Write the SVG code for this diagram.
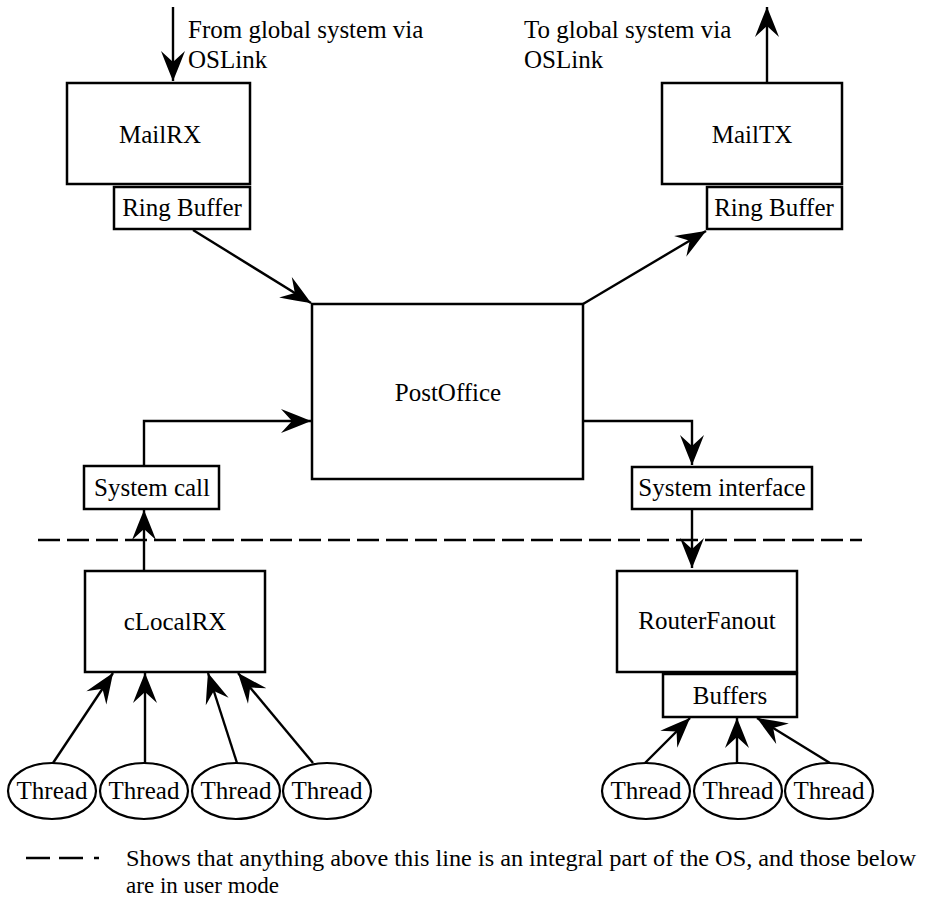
<svg xmlns="http://www.w3.org/2000/svg" width="927" height="914" viewBox="0 0 927 914">
  <style>
    .box { fill: #fff; stroke: #000; stroke-width: 2.5; }
    .thread { fill: #fff; stroke: #000; stroke-width: 2.2; }
    text { font-family: "Liberation Serif", "Times New Roman", serif; font-size: 25px; fill: #000; }
    .mid { text-anchor: middle; }
    .note { font-size: 22.5px; }
    .wire { fill: none; stroke: #000; stroke-width: 2.4; }
    .os { fill: none; stroke: #000; stroke-width: 2.6; stroke-dasharray: 22 7; }
  </style>
  <defs>
    <marker id="head" viewBox="-32 -14 34 28" refX="0" refY="0" markerWidth="34" markerHeight="28" markerUnits="userSpaceOnUse" orient="auto">
      <path d="M0,0 Q-12,-5 -30,-12 L-19,0 L-30,12 Q-12,5 0,0 Z" fill="#000"/>
    </marker>
  </defs>
  <rect width="927" height="914" fill="#fff"/>

  <!-- user / kernel boundary -->
  <path class="os" d="M38,540 L862,540"/>

  <!-- external links -->
  <g id="external-labels">
    <text x="188" y="38">From global system via</text>
    <text x="188" y="68">OSLink</text>
    <text x="524" y="38">To global system via</text>
    <text x="524" y="68">OSLink</text>
  </g>

  <g id="connectors">
    <path class="wire" marker-end="url(#head)" d="M173,7 L173,81"/>
    <path class="wire" marker-end="url(#head)" d="M767,83 L767,7"/>
    <path class="wire" marker-end="url(#head)" d="M193,230 L311,303"/>
    <path class="wire" marker-end="url(#head)" d="M583,304 L706,231"/>
    <path class="wire" marker-end="url(#head)" d="M144,466 L144,421 L311,421"/>
    <path class="wire" marker-end="url(#head)" d="M583,421 L692,421 L692,465"/>
    <path class="wire" marker-end="url(#head)" d="M692,509 L692,568"/>
    <path class="wire" marker-end="url(#head)" d="M144,571 L144,510"/>
    <path class="wire" marker-end="url(#head)" d="M53,763 L113,673"/>
    <path class="wire" marker-end="url(#head)" d="M145,763 L145,673"/>
    <path class="wire" marker-end="url(#head)" d="M237,763 L208,673"/>
    <path class="wire" marker-end="url(#head)" d="M313,763 L238,673"/>
    <path class="wire" marker-end="url(#head)" d="M645,763 L690,718"/>
    <path class="wire" marker-end="url(#head)" d="M737,763 L737,718"/>
    <path class="wire" marker-end="url(#head)" d="M830,763 L757,718"/>
  </g>

  <g id="mailrx">
    <rect class="box" x="67" y="83" width="183" height="101"/>
    <text class="mid" x="160" y="143">MailRX</text>
  </g>
  <g id="mailrx-ring-buffer">
    <rect class="box" x="114" y="187" width="136" height="42"/>
    <text class="mid" x="182" y="216">Ring Buffer</text>
  </g>

  <g id="mailtx">
    <rect class="box" x="662" y="83" width="180" height="101"/>
    <text class="mid" x="752" y="143">MailTX</text>
  </g>
  <g id="mailtx-ring-buffer">
    <rect class="box" x="707" y="187" width="135" height="42"/>
    <text class="mid" x="774" y="216">Ring Buffer</text>
  </g>

  <g id="postoffice">
    <rect class="box" x="312" y="304" width="271" height="175"/>
    <text class="mid" x="448" y="401">PostOffice</text>
  </g>

  <g id="system-call">
    <rect class="box" x="84" y="466" width="135" height="43"/>
    <text class="mid" x="152" y="496">System call</text>
  </g>

  <g id="system-interface">
    <rect class="box" x="632" y="467" width="180" height="42"/>
    <text class="mid" x="722" y="496">System interface</text>
  </g>

  <g id="clocalrx">
    <rect class="box" x="85" y="571" width="180" height="101"/>
    <text class="mid" x="175" y="630">cLocalRX</text>
  </g>

  <g id="routerfanout">
    <rect class="box" x="617" y="571" width="180" height="101"/>
    <text class="mid" x="707" y="629">RouterFanout</text>
  </g>
  <g id="buffers">
    <rect class="box" x="663" y="674" width="134" height="43"/>
    <text class="mid" x="730" y="704">Buffers</text>
  </g>

  <g id="thread-l1"><ellipse class="thread" cx="52" cy="791" rx="44" ry="28"/><text class="mid" x="52" y="799">Thread</text></g>
  <g id="thread-l2"><ellipse class="thread" cx="144" cy="791" rx="44" ry="28"/><text class="mid" x="144" y="799">Thread</text></g>
  <g id="thread-l3"><ellipse class="thread" cx="236" cy="791" rx="44" ry="28"/><text class="mid" x="236" y="799">Thread</text></g>
  <g id="thread-l4"><ellipse class="thread" cx="327" cy="791" rx="44" ry="28"/><text class="mid" x="327" y="799">Thread</text></g>

  <g id="thread-r1"><ellipse class="thread" cx="646" cy="791" rx="44" ry="28"/><text class="mid" x="646" y="799">Thread</text></g>
  <g id="thread-r2"><ellipse class="thread" cx="738" cy="791" rx="44" ry="28"/><text class="mid" x="738" y="799">Thread</text></g>
  <g id="thread-r3"><ellipse class="thread" cx="829" cy="791" rx="44" ry="28"/><text class="mid" x="829" y="799">Thread</text></g>

  <!-- legend -->
  <g id="legend">
    <path d="M26,858 L50,858 M59,858 L83,858 M94,858 L99,858" stroke="#000" stroke-width="2.6" fill="none"/>
    <text class="note" x="126" y="866" textLength="790" lengthAdjust="spacingAndGlyphs">Shows that anything above this line is an integral part of the OS, and those below</text>
    <text class="note" x="126" y="893" textLength="153" lengthAdjust="spacingAndGlyphs">are in user mode</text>
  </g>
</svg>
